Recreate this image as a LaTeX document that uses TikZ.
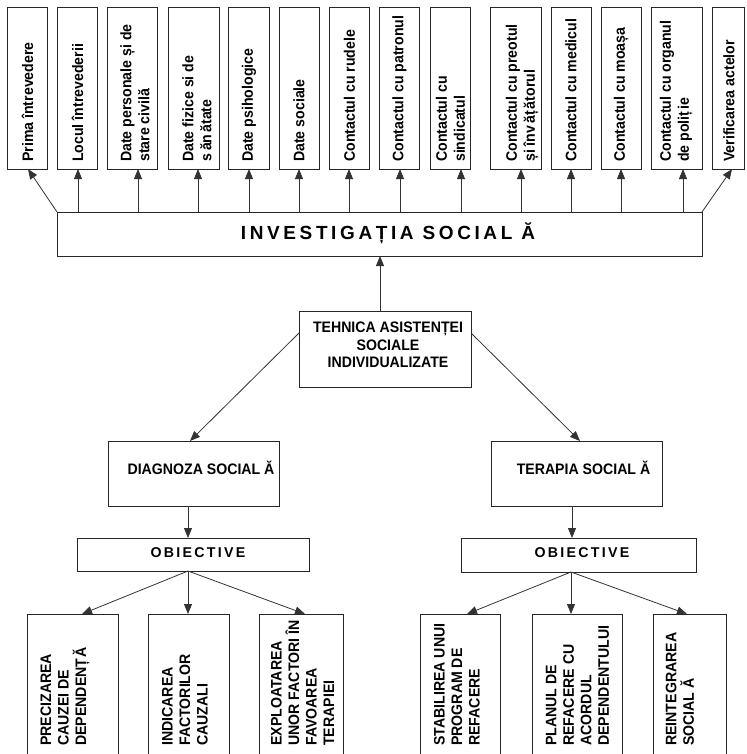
\documentclass[tikz,border=0pt]{standalone}
\usepackage{fontspec}
\setmainfont{Liberation Sans}
\newfontfamily\tallsans[FakeStretch=0.93]{Liberation Sans}
\usetikzlibrary{arrows.meta}
% rectangle node given by its corners: name, x1, y1, x2, y2
\newcommand\boxat[5]{\node[box, minimum width={(#4)-(#2)}, minimum height={(#5)-(#3)}] (#1) at ({((#2)+(#4))/2},{((#3)+(#5))/2}) {};}
\begin{document}
\begin{tikzpicture}[x=1pt,y=-1pt,
  box/.style={draw=black!85, line width=0.9pt, inner sep=0pt, outer sep=0pt},
  vtext/.style={rotate=90, anchor=west, inner sep=0pt, align=left,
    font=\tallsans\fontsize{15.2}{18}\bfseries\selectfont},
  btext/.style={rotate=90, anchor=west, inner sep=0pt, align=left,
    font=\tallsans\fontsize{15.2}{17.5}\bfseries\selectfont},
  htext/.style={inner sep=0pt, align=center,
    font=\tallsans\fontsize{15.2}{17.5}\bfseries\selectfont},
  link/.style={draw=black!80, line width=0.8pt},
  arr/.style={link, -{Triangle[length=10pt,width=8pt]}}
]
\useasboundingbox (0,0) rectangle (746,754);
\clip (0,0) rectangle (746,754);

% ---- top row of fields ----
\boxat{b1}{7}{7}{47}{169}
\boxat{b2}{57}{7}{97}{169}
\boxat{b3}{107}{7}{157}{169}
\boxat{b4}{168}{7}{219}{169}
\boxat{b5}{228}{7}{269}{169}
\boxat{b6}{279}{7}{319}{169}
\boxat{b7}{329}{7}{369}{169}
\boxat{b8}{379}{7}{419}{169}
\boxat{b9}{430}{7}{470}{169}
\boxat{b10}{490}{7}{541}{169}
\boxat{b11}{551}{7}{591}{169}
\boxat{b12}{601}{7}{641}{169}
\boxat{b13}{651}{7}{702}{169}
\boxat{b14}{712}{7}{744}{169}

\node[vtext] (t1) at (27.5,162) {Prima întrevedere};
\node[vtext] (t2) at (77.5,162) {Locul întrevederii};
\node[vtext] (t3) at (135,162) {Date personale și de\\stare civilă};
\node[vtext] (t4) at (197,162) {Date fizice si de\\s\kern3pt ăn\kern2pt ătate};
\node[vtext] (t5) at (249,162) {Date psihologice};
\node[vtext] (t6) at (299,162) {Date sociale};
\node[vtext] (t7) at (349.5,162) {Contactul cu rudele};
\node[vtext] (t8) at (399.5,162) {Contactul cu patronul};
\node[vtext] (t9) at (450.5,162) {Contactul cu\\sindicatul};
\node[vtext] (t10) at (522,162) {Contactul cu preotul\\și înv\kern2pt ăț\kern2pt ătorul};
\node[vtext] (t11) at (571,162) {Contactul cu medicul};
\node[vtext] (t12) at (621,162) {Contactul cu moașa};
\node[vtext] (t13) at (676,162) {Contactul cu organul\\de poliț\kern2pt ie};
\node[vtext] (t14) at (729,162) {Verificarea actelor};

% ---- investigation bar ----
\boxat{inv}{57}{212}{702}{256}
\node[inner sep=0pt, anchor=base,
  font=\fontsize{19}{22}\bfseries\selectfont\addfontfeature{LetterSpace=19}]
  (invt) at (388,239) {INVESTIGAȚIA SOCIAL Ă};

\foreach \i/\x in {2/78,3/138,4/198,5/249,6/299,7/349,8/400,9/461,10/521,11/571,12/621,13/683}
  \draw[arr] (inv.north -| \x,0) -- (b\i.south -| \x,0);
\draw[arr] (inv.north west) -- (b1.south -| 28,0);
\draw[arr] (inv.north east) -- (b14.south -| 732,0);

% ---- central method ----
\boxat{teh}{299}{311}{471}{387}
\node[htext] (teht) at (388,345) {TEHNICA ASISTENȚEI\\SOCIALE\\INDIVIDUALIZATE};
\draw[arr] (teh.north -| 380,0) -- (inv.south -| 380,0);

% ---- diagnosis branch ----
\boxat{dia}{108}{441}{279}{506}
\node[htext] (diat) at (201,467.5) {DIAGNOZA SOCIAL Ă};
\boxat{obl}{77}{538}{309}{571}
\node[inner sep=0pt, font=\fontsize{14.2}{17}\bfseries\selectfont\addfontfeature{LetterSpace=16}]
  (oblt) at (198,553) {OBIECTIVE};

% ---- therapy branch ----
\boxat{ter}{491}{441}{662}{506}
\node[htext] (tert) at (583.5,467.5) {TERAPIA SOCIAL Ă};
\boxat{obr}{461}{538}{696}{572}
\node[inner sep=0pt, font=\fontsize{14.2}{17}\bfseries\selectfont\addfontfeature{LetterSpace=16}]
  (obrt) at (582,553) {OBIECTIVE};

\draw[arr] (teh.west |- 0,333) -- (dia.north -| 190,0);
\draw[arr] (teh.east |- 0,333) -- (ter.north -| 580,0);
\draw[arr] (dia.south -| 188,0) -- (obl.north -| 188,0);
\draw[arr] (ter.south -| 572,0) -- (obr.north -| 572,0);

% ---- objectives ----
\boxat{oa}{27}{614}{118}{780}
\boxat{ob}{148}{614}{229}{780}
\boxat{oc}{259}{614}{343}{780}
\boxat{od}{420}{614}{500}{780}
\boxat{oe}{532}{614}{622}{780}
\boxat{of}{653}{614}{726}{780}

\node[btext] (ta) at (65,746) {PRECIZAREA\\CAUZEI DE\\DEPENDENȚ\kern1pt Ă};
\node[btext] (tb) at (185,746) {INDICAREA\\FACTORILOR\\CAUZALI};
\node[btext] (tc) at (302.5,746) {EXPLOATAREA\\UNOR FACTORI ÎN\\FAVOAREA\\TERAPIEI};
\node[btext] (td) at (457,746) {STABILIREA UNUI\\PROGRAM DE\\REFACERE};
\node[btext] (te) at (577.5,746) {PLANUL DE\\REFACERE CU\\ACORDUL\\DEPENDENTULUI};
\node[btext] (tf) at (680,746) {REINTEGRAREA\\SOCIAL Ă};

\draw[arr] (obl.south -| 188,0) -- (oa.north -| 82,0);
\draw[arr] (obl.south -| 188,0) -- (ob.north -| 188,0);
\draw[arr] (obl.south -| 188,0) -- (oc.north -| 305,0);
\draw[arr] (obr.south -| 571,0) -- (od.north -| 467,0);
\draw[arr] (obr.south -| 571,0) -- (oe.north -| 571,0);
\draw[arr] (obr.south -| 571,0) -- (of.north -| 687,0);
\end{tikzpicture}
\end{document}
